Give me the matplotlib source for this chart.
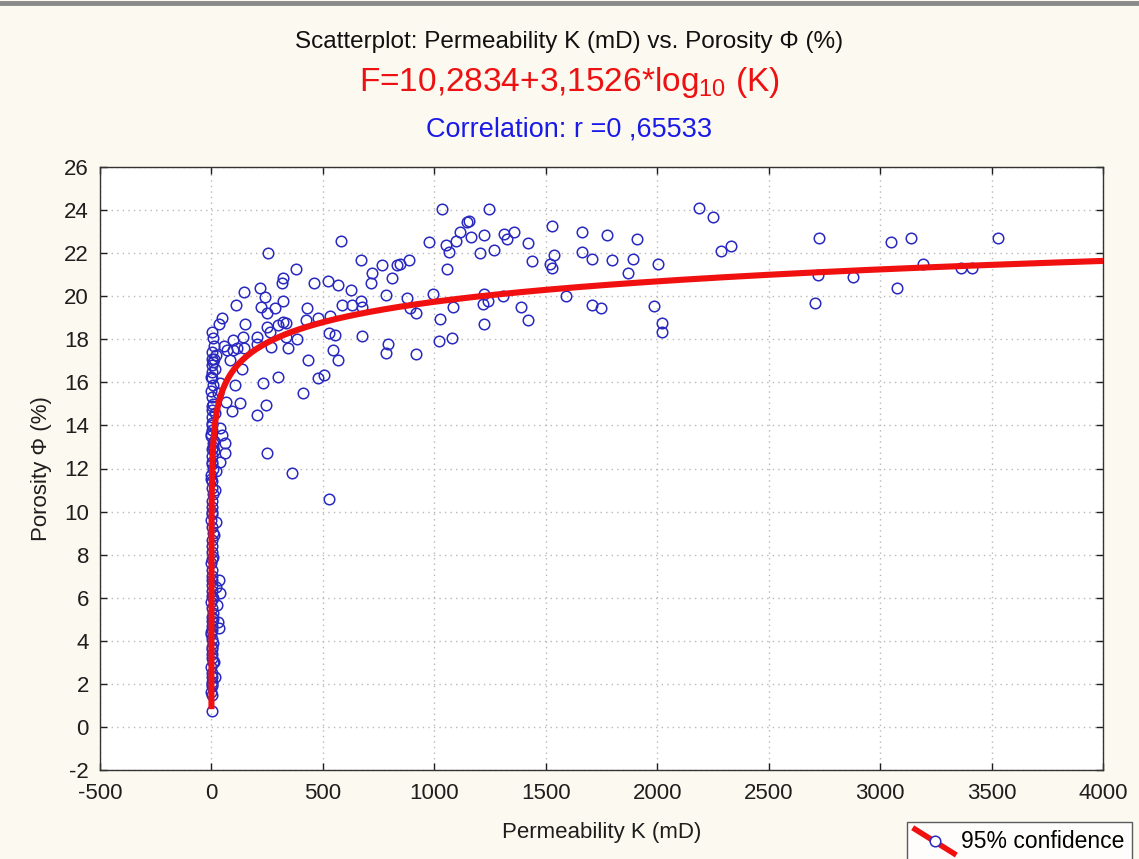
import numpy as np
import matplotlib
matplotlib.use("Agg")
import matplotlib.pyplot as plt
from matplotlib.lines import Line2D
from matplotlib.legend_handler import HandlerBase

plt.rcParams['font.family'] = ['Liberation Sans', 'DejaVu Sans']
plt.rcParams['mathtext.fontset'] = 'custom'
plt.rcParams['mathtext.rm'] = 'Liberation Sans'
plt.rcParams['mathtext.it'] = 'Liberation Sans'
plt.rcParams['axes.unicode_minus'] = False

# ---- samples: permeability K (mD) and porosity (%) ----
# tight cluster of low-permeability samples
k_low = [1, 2, 0, 3, 1, 4, 2, 0, 5, 1, 3, 2, 6, 1, 0, 4, 2, 3, 1, 5,
         2, 0, 7, 1, 3, 2, 4, 1, 0, 6, 2, 3, 1, 5, 2, 0, 4, 1, 3, 8,
         2, 1, 0, 5, 3, 1, 2, 6, 0, 4, 1, 3, 2, 9, 1, 0, 5, 2, 3, 1,
         4, 2, 10, 1, 3, 0, 6, 2, 1, 12, 3, 0, 2, 7, 1, 4,
         39, 30, 35, 26, 35, 22, 17, 12, 20, 15, 13, 0, 39, 30, 16,
         39, 48, 61, 61, 13, 39, 21, 7, 3, 7, 16, 0, 13]
phi_low = [0.75, 1.5, 1.6, 1.9, 2.1, 2.3, 2.5, 2.8, 3.0, 3.2, 3.4, 3.7, 3.9, 4.1, 4.3, 4.5, 4.7, 4.9, 5.1, 5.3,
           5.5, 5.8, 6.0, 6.3, 6.6, 6.8, 7.0, 7.3, 7.6, 7.9, 8.1, 8.4, 8.7, 9.0, 9.3, 9.6, 9.9, 10.2, 10.5, 10.8,
           11.1, 11.4, 11.7, 12.0, 12.3, 12.6, 12.9, 13.2, 13.5, 13.8, 14.1, 14.4, 14.7, 15.0, 15.3, 15.6, 15.9, 16.2, 16.5, 16.8,
           17.1, 17.4, 17.7, 2.0, 3.6, 4.4, 5.0, 6.1, 7.8, 8.9, 10.0, 11.5, 12.2, 13.0, 14.0, 14.9,
           6.2, 4.85, 4.6, 5.65, 6.8, 6.5, 2.3, 3.0, 9.5, 11.0, 12.8, 13.6, 15.95, 15.5, 14.6,
           13.9, 13.55, 13.2, 12.7, 13.3, 12.3, 11.9, 18.05, 18.35, 16.95, 16.6, 16.25, 17.1]

# moderate permeability samples
k_mid = [48, 35, 150, 249, 322, 335, 423, 477, 531, 527, 554, 676, 141, 204, 262,
         98, 56, 70, 97, 116, 147, 84, 21, 106, 137, 206, 266, 298, 335, 384,
         345, 433, 545, 567, 479, 505, 298, 233, 129, 93, 66, 206, 246, 410,
         793, 784, 250, 362, 529,
         581, 254, 670, 719, 764, 832, 810, 716, 379, 322, 317, 461, 524, 569,
         628, 785, 218, 146, 110, 240, 322, 222, 285, 250, 430, 587, 632, 672, 676]
phi_mid = [19.0, 18.7, 18.7, 18.55, 18.8, 18.75, 18.9, 19.0, 19.1, 18.3, 18.2, 18.15, 18.1, 18.1, 18.35,
           17.95, 17.7, 17.5, 17.5, 17.6, 17.6, 17.05, 17.25, 15.9, 16.6, 17.8, 17.65, 18.65, 18.1, 18.0,
           17.6, 17.05, 17.5, 17.05, 16.2, 16.35, 16.25, 15.95, 15.05, 14.65, 15.1, 14.5, 14.95, 15.5,
           17.8, 17.35, 12.7, 11.8, 10.6,
           22.55, 22.0, 21.7, 21.1, 21.45, 21.45, 20.85, 20.6, 21.25, 20.85, 20.6, 20.6, 20.7, 20.5,
           20.3, 20.05, 20.4, 20.2, 19.6, 19.95, 19.8, 19.5, 19.45, 19.2, 19.45, 19.6, 19.6, 19.8, 19.5]

# high permeability samples
k_high = [1035, 1246, 1156, 1147, 1116, 977, 1053, 1098, 1165, 1224, 1066, 1206, 1268, 1313, 1326,
          1358, 1420, 1438, 1528, 1537, 1519, 1528, 1662, 1662, 1707, 1775, 1797, 1909, 1891, 1869,
          2003, 2187, 2250, 2286, 2330, 887, 848, 877, 890, 916, 993, 1083, 1025, 1020, 1078,
          916, 1224, 1217, 1239, 1307, 1388, 1420, 1224, 1591, 1707, 1747, 1986, 2021, 2021, 1057,
          2726, 2721, 2708, 2878, 3049, 3076, 3138, 3192, 3363, 3412, 3530]
phi_high = [24.05, 24.05, 23.5, 23.45, 23.0, 22.5, 22.4, 22.55, 22.75, 22.85, 22.05, 22.0, 22.15, 22.9, 22.65,
            23.0, 22.45, 21.65, 23.25, 21.9, 21.5, 21.3, 23.0, 22.05, 21.75, 22.85, 21.7, 22.65, 21.75, 21.1,
            21.5, 24.1, 23.7, 22.1, 22.35, 21.7, 21.5, 19.9, 19.45, 19.2, 20.1, 19.5, 18.95, 17.9, 18.05,
            17.3, 20.1, 19.65, 19.8, 20.0, 19.5, 18.9, 18.7, 20.0, 19.6, 19.45, 19.55, 18.75, 18.35, 21.25,
            22.7, 21.0, 19.7, 20.9, 22.5, 20.4, 22.7, 21.5, 21.3, 21.3, 22.7]

# fitted model  F = a + b*log10(K)
fit_a = 10.2834
fit_b = 3.1526
k_fit_range = [0.001, 4000]

x_ticks = [-500, 0, 500, 1000, 1500, 2000, 2500, 3000, 3500, 4000]
y_ticks = [-2, 0, 2, 4, 6, 8, 10, 12, 14, 16, 18, 20, 22, 24, 26]

BG = '#fcf9f0'
MARKER_BLUE = '#2a2ac0'
LINE_RED = '#f01010'
TEXT = '#1e1e1e'

fig = plt.figure(figsize=(11.39, 8.59), dpi=100, facecolor=BG)
ax = fig.add_axes([100 / 1139, 1 - 770 / 859, 1003 / 1139, 603 / 859])
ax.set_facecolor('white')

k_all = np.array(k_low + k_mid + k_high, dtype=float)
phi_all = np.array(phi_low + phi_mid + phi_high, dtype=float)
ax.plot(k_all, phi_all, linestyle='none', marker='o', markersize=7.6,
        markerfacecolor='none', markeredgecolor=MARKER_BLUE, markeredgewidth=1.1, zorder=3)

k_curve = np.logspace(np.log10(k_fit_range[0]), np.log10(k_fit_range[1]), 2000)
ax.plot(k_curve, fit_a + fit_b * np.log10(k_curve), color=LINE_RED, linewidth=4.4,
        solid_capstyle='butt', zorder=4)

ax.set_xlim(-500, 4000)
ax.set_ylim(-2, 26)
ax.set_xticks(x_ticks)
ax.set_yticks(y_ticks)
ax.tick_params(direction='in', length=5, width=1, top=True, right=True,
               labeltop=False, labelright=False, labelsize=16, colors=TEXT)
ax.tick_params(axis='x', pad=9.5)
ax.tick_params(axis='y', pad=8)
ax.grid(True, linestyle=(0, (1, 3)), color='#b8b8b8', linewidth=1.0)
for s in ax.spines.values():
    s.set_color('#333333')
    s.set_linewidth(1.0)

ax.set_xlabel('Permeability K (mD)', fontsize=16, color=TEXT, labelpad=13)
ax.set_ylabel('Porosity \u03a6 (%)', fontsize=16, color=TEXT, labelpad=9)

fig.text(0.5, 1 - 42 / 859, 'Scatterplot: Permeability K (mD) vs. Porosity \u03a6 (%)',
         ha='center', va='center', fontsize=17.5, color='#111111')
fig.text(0.5, 1 - 82 / 859, r'F=10,2834+3,1526*log$_{10}$ (K)',
         ha='center', va='center', fontsize=24, color='#ee1111')
fig.text(0.5, 1 - 130 / 859, 'Correlation: r =0 ,65533',
         ha='center', va='center', fontsize=19.5, color='#1a1ae6')

# thin gray rule across the top of the window
fig.add_artist(Line2D([0, 1], [1 - 3 / 859, 1 - 3 / 859], transform=fig.transFigure,
                      color='#8a8a8a', linewidth=3.5))


class DiagonalHandler(HandlerBase):
    def create_artists(self, legend, orig_handle, xdescent, ydescent, width, height,
                       fontsize, trans):
        line = Line2D([-xdescent, width - xdescent], [height - ydescent + 2, -ydescent - 4],
                      color=LINE_RED, linewidth=4, transform=trans)
        mark = Line2D([width / 2 - xdescent], [height / 2 - ydescent - 1],
                      marker='o', markersize=7.6, markerfacecolor='white',
                      markeredgecolor=MARKER_BLUE, markeredgewidth=1.1,
                      linestyle='none', transform=trans)
        return [line, mark]


handle = Line2D([], [], color=LINE_RED)
leg = fig.legend([handle], ['95% confidence'], handler_map={Line2D: DiagonalHandler()},
                 loc='upper left', bbox_to_anchor=(907 / 1139, 1 - 822 / 859),
                 bbox_transform=fig.transFigure, borderaxespad=0, fontsize=16.5,
                 frameon=True, fancybox=False, handlelength=1.7, handletextpad=0.3,
                 borderpad=0.35)
leg.get_frame().set_edgecolor('#333333')
leg.get_frame().set_linewidth(1.0)
leg.get_frame().set_facecolor('white')

fig.savefig('out.png', dpi=100, facecolor=BG)
